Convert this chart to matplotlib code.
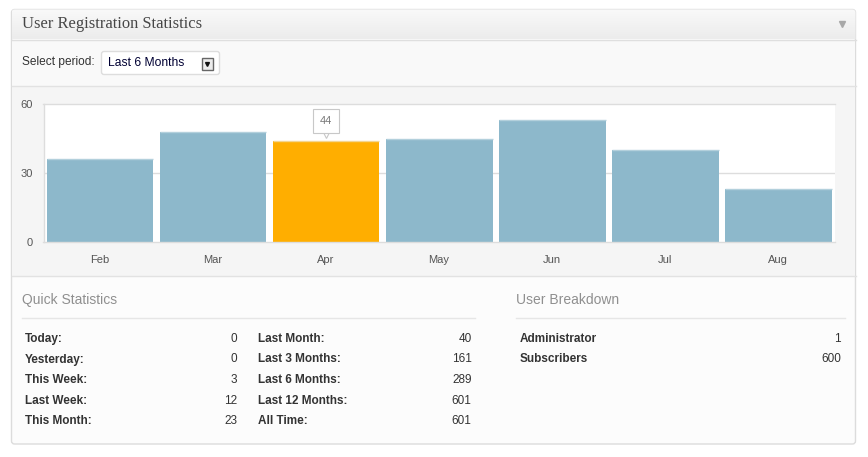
import matplotlib
matplotlib.use("Agg")
import matplotlib.pyplot as plt
import numpy as np
from matplotlib.patches import FancyBboxPatch, Rectangle
from matplotlib.transforms import offset_copy

# ---------------- data ----------------
months = ["Feb", "Mar", "Apr", "May", "Jun", "Jul", "Aug"]
registrations = [36, 48, 44, 45, 53, 40, 23]
highlight_index = 2
y_ticks = [0, 30, 60]

title = "User Registration Statistics"
period_label = "Select period:"
period_value = "Last 6 Months"

quick_header = "Quick Statistics"
quick_left_labels = ["Today:", "Yesterday:", "This Week:", "Last Week:", "This Month:"]
quick_left_values = [0, 0, 3, 12, 23]
quick_right_labels = ["Last Month:", "Last 3 Months:", "Last 6 Months:", "Last 12 Months:", "All Time:"]
quick_right_values = [40, 161, 289, 601, 601]

breakdown_header = "User Breakdown"
role_labels = ["Administrator", "Subscribers"]
role_values = [1, 600]

# ---------------- figure ----------------
W, H = 868, 457
fig = plt.figure(figsize=(W / 100, H / 100), dpi=100)
fig.patch.set_facecolor("white")
plt.rcParams["font.family"] = ["Liberation Sans", "DejaVu Sans"]

bg = fig.add_axes([0, 0, 1, 1], zorder=0)
bg.set_xlim(0, W)
bg.set_ylim(H, 0)
bg.axis("off")

# widget box
L, R, T, B = 11.5, 855.5, 9.5, 444
box = FancyBboxPatch((L, T), R - L, B - T, boxstyle="round,pad=0,rounding_size=3",
                     facecolor="#fcfcfc", edgecolor="#dcdcdc", lw=1, zorder=1)
bg.add_patch(box)
# select row
bg.add_patch(Rectangle((L + 0.5, 39.5), R - L - 1, 86 - 39.5, facecolor="#f9f9f9",
                       edgecolor="none", zorder=1.5))
# title bar gradient
grad = np.linspace(0, 1, 64).reshape(-1, 1)
c1 = np.array([0xf9, 0xf9, 0xf9]) / 255
c2 = np.array([0xec, 0xec, 0xec]) / 255
img = c1[None, None, :] * (1 - grad[:, :, None]) + c2[None, None, :] * grad[:, :, None]
im = bg.imshow(img, extent=(L, R, 39.5, T), aspect="auto", zorder=1.6, interpolation="bilinear")
im.set_clip_path(box)
bg.plot([L, R], [39.5, 39.5], color="#dfdfdf", lw=1, zorder=2)
bg.text(22, 24.5, title, fontsize=11.9, family=["Liberation Serif", "DejaVu Serif"],
        color="#464646", va="center", ha="left", zorder=3)
bg.plot([841.7], [24.2], marker="v", markersize=4.2, color="#a8a8a8", zorder=3, lw=0)

# select period
bg.text(22, 62, period_label, fontsize=8.6, color="#333333", va="center", ha="left", zorder=3)
bg.add_patch(FancyBboxPatch((101.5, 51.5), 118, 23, boxstyle="round,pad=0,rounding_size=2.5",
                            facecolor="white", edgecolor="#dddddd", lw=1, zorder=3))
bg.text(108, 62.5, period_value, fontsize=8.7, color="#000033", va="center", ha="left", zorder=4)
bg.add_patch(Rectangle((201.5, 57.5), 11, 12, facecolor="#ececec", edgecolor="#666666",
                       lw=1, zorder=4))
bg.plot([207], [64], marker="v", markersize=2.8, color="#111111", zorder=5, lw=0)

# chart band
bg.add_patch(Rectangle((L + 0.5, 86), R - L - 1, 276 - 86, facecolor="#f5f5f5",
                       edgecolor="none", zorder=1.5))
bg.plot([L, R], [86, 86], color="#e2e2e2", lw=1, zorder=2)
bg.plot([L, R], [276, 276], color="#e2e2e2", lw=1, zorder=2)

# quick statistics
bg.text(22, 300, quick_header, fontsize=10, color="#8f8f8f", va="center", ha="left", zorder=3)
bg.plot([22, 475], [317.5, 317.5], color="#e6e6e6", lw=1, zorder=3)
row_y0, row_dy = 339, 20.5
for i, (lab, val) in enumerate(zip(quick_left_labels, quick_left_values)):
    y = row_y0 + i * row_dy
    bg.text(25, y, lab, fontsize=8.5, weight="bold", color="#333333", va="center", ha="left", zorder=3)
    bg.text(237.5, y, str(val), fontsize=8.5, color="#333333", va="center", ha="right", zorder=3)
for i, (lab, val) in enumerate(zip(quick_right_labels, quick_right_values)):
    y = row_y0 + i * row_dy
    bg.text(258.5, y, lab, fontsize=8.5, weight="bold", color="#333333", va="center", ha="left", zorder=3)
    bg.text(471.5, y, str(val), fontsize=8.5, color="#333333", va="center", ha="right", zorder=3)

# user breakdown
bg.text(516, 300, breakdown_header, fontsize=10, color="#8f8f8f", va="center", ha="left", zorder=3)
bg.plot([516, 845], [317.5, 317.5], color="#e6e6e6", lw=1, zorder=3)
for i, (lab, val) in enumerate(zip(role_labels, role_values)):
    y = row_y0 + i * row_dy
    bg.text(519.5, y, lab, fontsize=8.5, weight="bold", color="#333333", va="center", ha="left", zorder=3)
    bg.text(841, y, str(val), fontsize=8.5, color="#333333", va="center", ha="right", zorder=3)

# ---------------- bar chart ----------------
px_l, px_r, px_t, px_b = 43.5, 834.7, 104.3, 242
ax = fig.add_axes([px_l / W, (H - px_b) / H, (px_r - px_l) / W, (px_b - px_t) / H], zorder=2)
ax.set_facecolor("white")
x = np.arange(len(months))
width = 0.945
colors = ["#ffae00" if i == highlight_index else "#8db8cb" for i in range(len(months))]
ax.bar(x, registrations, width=width, color=colors, zorder=2, linewidth=0)
top_colors = ["#f3d58f" if i == highlight_index else "#b3d0dc" for i in range(len(months))]
ax.hlines(registrations, x - width / 2, x + width / 2, colors=top_colors, lw=1, zorder=3)
ax.set_xlim(-0.5, len(months) - 0.5)
ax.set_ylim(0, 60)
ax.set_yticks(y_ticks)
ax.set_yticklabels([str(t) for t in y_ticks])
ax.set_xticks(x)
ax.set_xticklabels(months)
ax.tick_params(axis="both", length=0, labelsize=8, labelcolor="#555555")
ax.tick_params(axis="y", pad=7.5)
ax.tick_params(axis="x", pad=9.5)
ax.axhline(30, color="#dddddd", lw=1, zorder=1)
for s in ["top", "bottom", "left"]:
    ax.spines[s].set_color("#dddddd")
    ax.spines[s].set_linewidth(1)
ax.spines["right"].set_visible(False)

# tooltip for highlighted bar
hv = registrations[highlight_index]
ax.plot([highlight_index], [hv], transform=offset_copy(ax.transData, fig=fig, x=0, y=5, units="points"),
        marker="v", markersize=6, markerfacecolor="white", markeredgecolor="#c8c8c8",
        markeredgewidth=0.8, zorder=5, clip_on=False)
ax.annotate(str(hv), xy=(highlight_index, hv), xytext=(0, 14.5), textcoords="offset points",
            ha="center", va="center", fontsize=8, color="#777777", zorder=6,
            bbox=dict(boxstyle="square,pad=0.62", facecolor="white", edgecolor="#c8c8c8", lw=0.8))

fig.savefig("out.png", dpi=100, facecolor=fig.get_facecolor())
